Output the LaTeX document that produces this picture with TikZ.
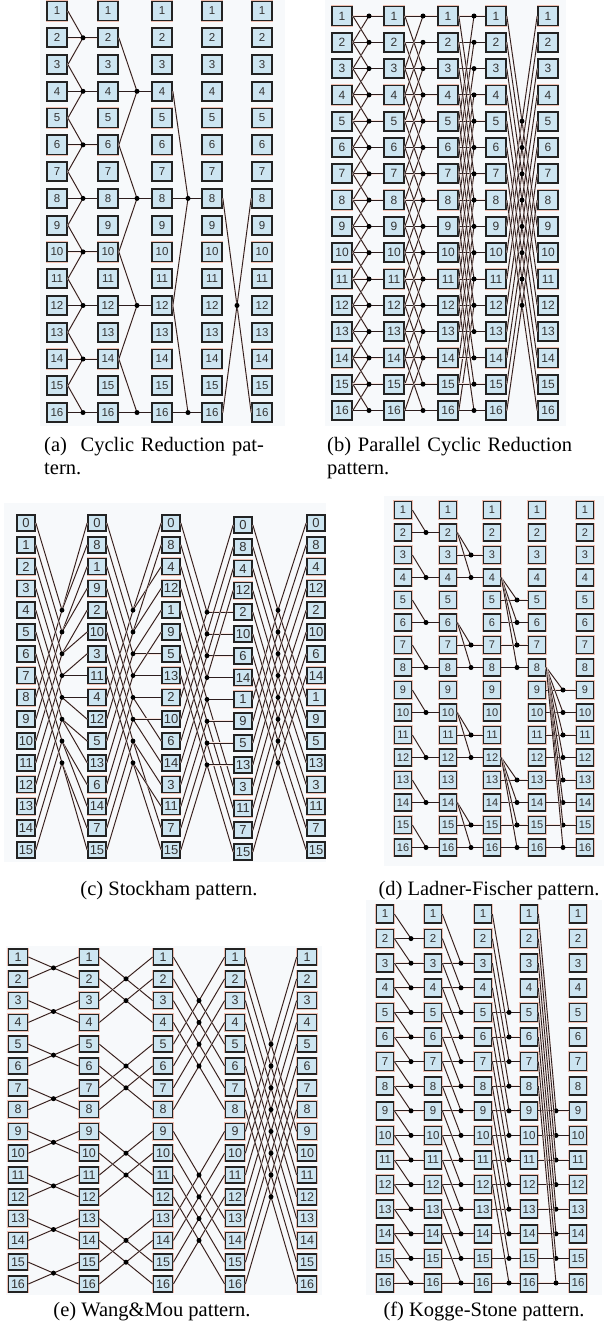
\documentclass[tikz,border=0pt]{standalone}
\usepackage{fontspec}
\setmainfont{Liberation Serif}
\newfontfamily\cellfont{Liberation Sans}
\usepackage{tikz}
\usetikzlibrary{calc}
\definecolor{cellfill}{RGB}{205,229,241}
\definecolor{cellline}{RGB}{35,35,35}
\definecolor{cellhalo}{RGB}{238,190,176}
\definecolor{wireline}{RGB}{45,30,30}
\definecolor{panelbg}{RGB}{247,249,251}

% one panel: 5 columns of 16 cells
\newcommand{\cellgrid}[5]{%
  \foreach \cl/\xx in {#2} {
    \foreach \rw in {1,...,16} {
      \node[cell, #5] (#1-\cl-\rw) at (\xx, {#3+(\rw-1)*#4}) {\rw};
    }
  }
}
% dot on the row of the target cell, fed by the source rows
\newcommand{\joinrow}[5]{%
  \pgfmathtruncatemacro{\nxt}{#2+1}%
  \coordinate (#1-j#2-#4) at (#3,0 |- #1-\nxt-#4);
  \foreach \sr in {#5} {
    \draw[wire] (#1-#2-\sr.east) -- (#1-j#2-#4);
  }
  \draw[wire] (#1-j#2-#4) -- (#1-\nxt-#4.west);
  \fill[dotc] (#1-j#2-#4) circle (2.5pt);
}
% two rows swapped, dot where they cross
\newcommand{\crosspair}[4]{%
  \pgfmathtruncatemacro{\nxt}{#2+1}%
  \draw[wire] (#1-#2-#3.east) -- (#1-\nxt-#4.west);
  \draw[wire] (#1-#2-#4.east) -- (#1-\nxt-#3.west);
  \fill[dotc] ($(#1-#2-#3.east)!0.5!(#1-\nxt-#4.west)$) circle (2.5pt);
}

\begin{document}
\begin{tikzpicture}[
  x=1pt, y=-1pt,
  cell/.style={draw=cellline, fill=cellfill, line width=1.7pt, inner sep=0pt,
               preaction={draw=cellhalo, line width=2.3pt}, text=black!80},
  wire/.style={draw=wireline, line width=0.9pt,
               preaction={draw=cellhalo!40!white, line width=1.5pt}},
  dotc/.style={fill=black},
  capt/.style={font=\fontsize{20.5}{23}\selectfont, inner sep=0pt},
]
\useasboundingbox (0,0) rectangle (609,1327);

% =================================================================
%  PANEL BACKGROUNDS
% =================================================================
\fill[panelbg] (40,0) rectangle (285,426);
\fill[panelbg] (325,0) rectangle (566,426);
\fill[panelbg] (4,503) rectangle (326,862);
\fill[panelbg] (384,496) rectangle (604,866);
\fill[panelbg] (6,946) rectangle (322,1295);
\fill[panelbg] (366,900) rectangle (602,1295);

% =================================================================
%  (a) CYCLIC REDUCTION
% =================================================================
\cellgrid{a}{1/57,2/108,3/162,4/212,5/262}{11}{26.77}
  {minimum width=20pt, minimum height=19pt, font=\cellfont\fontsize{11.5}{12}\selectfont}
\foreach \st/\dx in {1/83,2/137,3/188} {
  \pgfmathtruncatemacro\blk{2^(\st-1)}
  \pgfmathtruncatemacro\nk{16/(2*\blk)}
  \foreach \kk in {1,...,\nk} {
    \pgfmathtruncatemacro\rw{2*\blk*\kk}
    \pgfmathtruncatemacro\rup{\rw-\blk}
    \pgfmathtruncatemacro\rdn{min(\rw+\blk,16)}
    \joinrow{a}{\st}{\dx}{\rw}{\rup,\rw,\rdn}
  }
}
\crosspair{a}{4}{8}{16}

% =================================================================
%  (b) PARALLEL CYCLIC REDUCTION
% =================================================================
\cellgrid{b}{1/342,2/394,3/448,4/496,5/548}{16}{26.3}
  {minimum width=20pt, minimum height=19pt, font=\cellfont\fontsize{12}{12}\selectfont}
\foreach \st/\dx in {1/369,2/423,3/474} {
  \pgfmathtruncatemacro\blk{2^(\st-1)}
  \foreach \rw in {1,...,16} {
    \pgfmathtruncatemacro\rup{\rw-\blk<1 ? \rw : \rw-\blk}
    \pgfmathtruncatemacro\rdn{\rw+\blk>16 ? \rw : \rw+\blk}
    \joinrow{b}{\st}{\dx}{\rw}{\rup,\rw,\rdn}
  }
}
\foreach \rw in {1,...,8} {
  \pgfmathtruncatemacro\mate{\rw+8}
  \crosspair{b}{4}{\rw}{\mate}
}

% =================================================================
%  (c) STOCKHAM
% =================================================================
\tikzset{cellc/.style={cell, minimum width=18pt, minimum height=16pt,
                       font=\cellfont\fontsize{13}{13}\selectfont}}
\foreach [count=\rw from 0] \lb in {0,1,2,3,4,5,6,7,8,9,10,11,12,13,14,15}
  \node[cellc] (c-1-\rw) at (26, {523+\rw*21.8}) {\lb};
\foreach [count=\rw from 0] \lb in {0,8,1,9,2,10,3,11,4,12,5,13,6,14,7,15}
  \node[cellc] (c-2-\rw) at (97, {523+\rw*21.8}) {\lb};
\foreach [count=\rw from 0] \lb in {0,8,4,12,1,9,5,13,2,10,6,14,3,11,7,15}
  \node[cellc] (c-3-\rw) at (171, {523+\rw*21.8}) {\lb};
\foreach [count=\rw from 0] \lb in {0,8,4,12,2,10,6,14,1,9,5,13,3,11,7,15}
  \node[cellc] (c-4-\rw) at (243, {525+\rw*21.8}) {\lb};
\foreach [count=\rw from 0] \lb in {0,8,4,12,2,10,6,14,1,9,5,13,3,11,7,15}
  \node[cellc] (c-5-\rw) at (316, {523+\rw*21.8}) {\lb};
\foreach \st/\dx in {1/62,2/133,3/207,4/278} {
  \pgfmathtruncatemacro\nxt{\st+1}
  \pgfmathtruncatemacro\blk{2^(\st-1)}
  \foreach \i in {0,...,7} {
    \pgfmathtruncatemacro\outa{2*\blk*floor(\i/\blk)+mod(\i,\blk)}
    \pgfmathtruncatemacro\outb{\outa+\blk}
    \pgfmathtruncatemacro\srcb{\i+8}
    \pgfmathtruncatemacro\drow{\i+4}
    \coordinate (c-j\st-\i) at (\dx,0 |- c-\nxt-\drow);
    \draw[wire] (c-\st-\i.east) -- (c-j\st-\i);
    \draw[wire] (c-\st-\srcb.east) -- (c-j\st-\i);
    \draw[wire] (c-j\st-\i) -- (c-\nxt-\outa.west);
    \draw[wire] (c-j\st-\i) -- (c-\nxt-\outb.west);
    \fill[dotc] (c-j\st-\i) circle (2.4pt);
  }
}

% =================================================================
%  (d) LADNER-FISCHER
% =================================================================
\cellgrid{d}{1/403,2/448,3/492,4/537,5/585}{510}{22.5}
  {minimum width=17pt, minimum height=17pt, font=\cellfont\fontsize{11}{11}\selectfont}
\foreach \st/\dx in {1/426,2/471,3/517,4/563} {
  \pgfmathtruncatemacro\blk{2^(\st-1)}
  \foreach \rw in {1,...,16} {
    \pgfmathtruncatemacro\offs{mod(\rw-1,2*\blk)}
    \ifnum\offs<\blk\relax\else
      \pgfmathtruncatemacro\src{\rw-\offs+\blk-1}
      \joinrow{d}{\st}{\dx}{\rw}{\src,\rw}
    \fi
  }
}

% =================================================================
%  (e) WANG & MOU
% =================================================================
\cellgrid{e}{1/18,2/89,3/163,4/235,5/307}{957}{21.8}
  {minimum width=19pt, minimum height=16pt, font=\cellfont\fontsize{12.5}{12.5}\selectfont}
\foreach \st in {1,...,4} {
  \pgfmathtruncatemacro\blk{2^(\st-1)}
  \foreach \rw in {1,...,16} {
    \pgfmathtruncatemacro\offs{mod(\rw-1,2*\blk)}
    \ifnum\offs<\blk\relax
      \pgfmathtruncatemacro\mate{\rw+\blk}
      \crosspair{e}{\st}{\rw}{\mate}
    \fi
  }
}

% =================================================================
%  (f) KOGGE-STONE
% =================================================================
\cellgrid{f}{1/385,2/433,3/483,4/529,5/578}{914}{24.6}
  {minimum width=17pt, minimum height=18pt, font=\cellfont\fontsize{11.5}{11.5}\selectfont}
\foreach \st/\dx in {1/411,2/461,3/509,4/556} {
  \pgfmathtruncatemacro\blk{2^(\st-1)}
  \pgfmathtruncatemacro\first{\blk+1}
  \foreach \rw in {\first,...,16} {
    \pgfmathtruncatemacro\src{\rw-\blk}
    \joinrow{f}{\st}{\dx}{\rw}{\src,\rw}
  }
}

% =================================================================
%  CAPTIONS
% =================================================================
\node[capt, anchor=north west, text width=229pt, align=left] (capa) at (44,437)
  {\makebox[229pt][s]{(a)\ \ Cyclic Reduction pat-}\\tern.};
\node[capt, anchor=north west, text width=250pt, align=left] (capb) at (327,437)
  {(b)\ Parallel Cyclic Reduction\\pattern.};
\node[capt, anchor=base] (capc) at (169,895) {(c) Stockham pattern.};
\node[capt, anchor=base] (capd) at (489,895) {(d) Ladner-Fischer pattern.};
\node[capt, anchor=base] (cape) at (152,1316) {(e) Wang\&Mou pattern.};
\node[capt, anchor=base] (capf) at (484,1316) {(f) Kogge-Stone pattern.};

\end{tikzpicture}
\end{document}
